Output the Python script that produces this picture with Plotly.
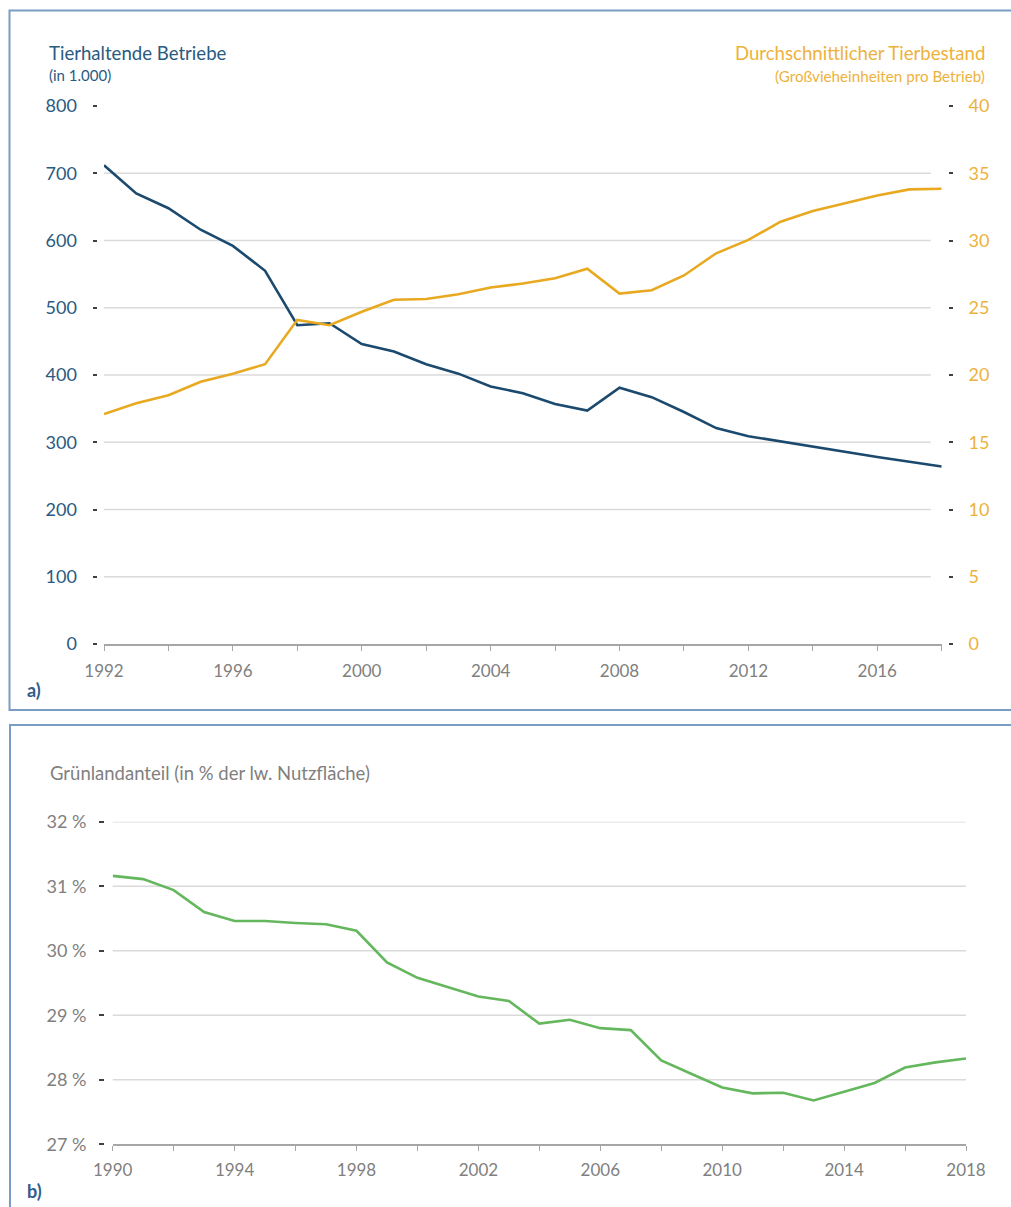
import plotly.graph_objects as go

# ---------------- data ----------------
years_a = [1992, 1993, 1994, 1995, 1996, 1997, 1998, 1999, 2000, 2001, 2002, 2003, 2004,
           2005, 2006, 2007, 2008, 2009, 2010, 2011, 2012, 2013, 2014, 2015, 2016, 2017, 2018]
betriebe = [712, 670, 648, 616, 592, 555, 474, 477, 446, 435, 416, 402, 383,
            373, 357, 347, 381, 367, 345, 321, 309, 301, 294, 286, 278, 271, 264]
tierbestand = [17.1, 17.9, 18.5, 19.5, 20.1, 20.8, 24.1, 23.7, 24.7, 25.6, 25.65, 26.0, 26.5,
               26.8, 27.2, 27.9, 26.05, 26.3, 27.4, 29.05, 30.05, 31.4, 32.2, 32.8, 33.35, 33.8, 33.85]

years_b = [1990, 1991, 1992, 1993, 1994, 1995, 1996, 1997, 1998, 1999, 2000, 2001, 2002, 2003,
           2004, 2005, 2006, 2007, 2008, 2009, 2010, 2011, 2012, 2013, 2014, 2015, 2016, 2017, 2018]
gruenland = [31.16, 31.11, 30.94, 30.60, 30.46, 30.46, 30.43, 30.41, 30.31, 29.82, 29.58, 29.43,
             29.29, 29.22, 28.87, 28.93, 28.80, 28.77, 28.30, 28.09, 27.88, 27.79, 27.80, 27.68,
             27.82, 27.95, 28.19, 28.27, 28.33]

ya_ticks = [0, 100, 200, 300, 400, 500, 600, 700, 800]
ya_grid = [100, 200, 300, 400, 500, 600, 700]
ya2_ticks = [0, 5, 10, 15, 20, 25, 30, 35, 40]
xa_labels = [1992, 1996, 2000, 2004, 2008, 2012, 2016]
xb_labels = [1990, 1994, 1998, 2002, 2006, 2010, 2014, 2018]
yb_ticks = [27, 28, 29, 30, 31, 32]
yb_text = ["27 %", "28 %", "29 %", "30 %", "31 %", "32 %"]
yb_grid = [28, 29, 30, 31, 32]

# ---------------- style ----------------
W, H = 1011, 1207
FONT = "Lato"
C_BLUE = "#1b4a6e"
C_BLUE_TXT = "#2a5a80"
C_GOLD = "#e8a921"
C_GOLD_TXT = "#edb23c"
C_GREEN = "#64b75c"
C_GRAY_TXT = "#808080"
C_AXIS = "#a6a6a6"
C_GRID = "#dadada"
C_FRAME = "#7b9cc4"
C_TICK = "#404040"


def px(x):
    return x / W


def py(y):
    return 1 - y / H


fig = go.Figure()
fig.add_trace(go.Scatter(x=years_a, y=betriebe, mode="lines", xaxis="x", yaxis="y",
                         line=dict(color=C_BLUE, width=2.6), showlegend=False))
fig.add_trace(go.Scatter(x=years_a, y=tierbestand, mode="lines", xaxis="x", yaxis="y2",
                         line=dict(color=C_GOLD, width=2.6), showlegend=False))
fig.add_trace(go.Scatter(x=years_b, y=gruenland, mode="lines", xaxis="x2", yaxis="y3",
                         line=dict(color=C_GREEN, width=2.6), showlegend=False))

shapes = []
# frames
shapes.append(dict(type="rect", xref="paper", yref="paper", x0=px(9.5), x1=px(1030),
                   y0=py(710), y1=py(10.5), line=dict(color=C_FRAME, width=2), layer="below"))
shapes.append(dict(type="rect", xref="paper", yref="paper", x0=px(10), x1=px(1030),
                   y0=py(1230), y1=py(725), line=dict(color=C_FRAME, width=2), layer="below"))
for v in ya_grid:
    shapes.append(dict(type="line", xref="x domain", yref="y", x0=0, x1=0.987, y0=v, y1=v,
                       line=dict(color=C_GRID, width=1.5), layer="below"))
for v in yb_grid:
    shapes.append(dict(type="line", xref="x2 domain", yref="y3", x0=0, x1=1, y0=v, y1=v,
                       line=dict(color=C_GRID, width=1.5), layer="below"))

annotations = [
    dict(text="Tierhaltende Betriebe", x=px(47), y=py(53), xref="paper", yref="paper",
         xanchor="left", yanchor="middle", showarrow=False,
         font=dict(family=FONT, size=18.6, color=C_BLUE_TXT)),
    dict(text="(in 1.000)", x=px(46.5), y=py(75), xref="paper", yref="paper",
         xanchor="left", yanchor="middle", showarrow=False,
         font=dict(family=FONT, size=15, color=C_BLUE_TXT)),
    dict(text="Durchschnittlicher Tierbestand", x=px(987), y=py(53), xref="paper", yref="paper",
         xanchor="right", yanchor="middle", showarrow=False,
         font=dict(family=FONT, size=18.6, color=C_GOLD_TXT)),
    dict(text="(Großvieheinheiten pro Betrieb)", x=px(987), y=py(76), xref="paper", yref="paper",
         xanchor="right", yanchor="middle", showarrow=False,
         font=dict(family=FONT, size=15.2, color=C_GOLD_TXT)),
    dict(text="<b>a)</b>", x=px(25), y=py(690), xref="paper", yref="paper",
         xanchor="left", yanchor="middle", showarrow=False,
         font=dict(family=FONT, size=18, color="#2f5d8c")),
    dict(text="Grünlandanteil (in % der lw. Nutzfläche)", x=px(47.5), y=py(773),
         xref="paper", yref="paper", xanchor="left", yanchor="middle", showarrow=False,
         font=dict(family=FONT, size=18.5, color=C_GRAY_TXT)),
    dict(text="<b>b)</b>", x=px(25), y=py(1191), xref="paper", yref="paper",
         xanchor="left", yanchor="middle", showarrow=False,
         font=dict(family=FONT, size=18, color="#2f5d8c")),
]

fig.update_layout(
    template="none",
    width=W, height=H,
    margin=dict(l=0, r=0, t=0, b=0, autoexpand=False),
    paper_bgcolor="white", plot_bgcolor="white",
    font=dict(family=FONT),
    shapes=shapes,
    annotations=annotations,
    xaxis=dict(domain=[px(104), px(941.7)], anchor="y", range=[1992, 2018], automargin=False,
               tickvals=xa_labels, ticktext=[str(v) for v in xa_labels],
               ticks="outside", ticklen=5, tickwidth=1.2, tickcolor=C_AXIS,
               minor=dict(ticks="outside", dtick=2, tick0=1992, ticklen=5, tickwidth=1.2,
                          tickcolor=C_AXIS, showgrid=False),
               showline=True, linecolor=C_AXIS, linewidth=1.8, showgrid=False, zeroline=False,
               tickfont=dict(family=FONT, size=17, color=C_GRAY_TXT), ticklabelstandoff=6),
    yaxis=dict(domain=[py(644), py(106)], anchor="free", position=px(97), side="left",
               automargin=False,
               range=[0, 800], tickvals=ya_ticks, ticks="outside", ticklen=4.5, tickwidth=1.8,
               tickcolor=C_TICK, showline=False, showgrid=False, zeroline=False,
               tickfont=dict(family=FONT, size=18, color=C_BLUE_TXT), ticklabelstandoff=12),
    yaxis2=dict(overlaying="y", anchor="free", position=px(947.5), side="right",
                automargin=False,
                range=[0, 40], tickvals=ya2_ticks, ticks="outside", ticklen=4.5, tickwidth=1.8,
                tickcolor=C_TICK, showline=False, showgrid=False, zeroline=False,
                tickfont=dict(family=FONT, size=18, color=C_GOLD_TXT), ticklabelstandoff=12),
    xaxis2=dict(domain=[px(112.7), px(966)], anchor="y3", range=[1990, 2018], automargin=False,
                tickvals=xb_labels, ticktext=[str(v) for v in xb_labels],
                ticks="outside", ticklen=5, tickwidth=1.2, tickcolor=C_AXIS,
                minor=dict(ticks="outside", dtick=2, tick0=1990, ticklen=5, tickwidth=1.2,
                           tickcolor=C_AXIS, showgrid=False),
                showline=True, linecolor=C_AXIS, linewidth=1.8, showgrid=False, zeroline=False,
                tickfont=dict(family=FONT, size=17, color=C_GRAY_TXT), ticklabelstandoff=4),
    yaxis3=dict(domain=[py(1144.3), py(821.7)], anchor="free", position=px(103.5), side="left",
                automargin=False,
                range=[27, 32], tickvals=yb_ticks, ticktext=yb_text, ticks="outside",
                ticklen=4.5, tickwidth=1.8, tickcolor=C_TICK, showline=False, showgrid=False,
                zeroline=False, tickfont=dict(family=FONT, size=18, color=C_GRAY_TXT),
                ticklabelstandoff=9),
)

fig.write_html("out.html", config={"displayModeBar": False},
               post_script="document.body.style.margin='0';")
